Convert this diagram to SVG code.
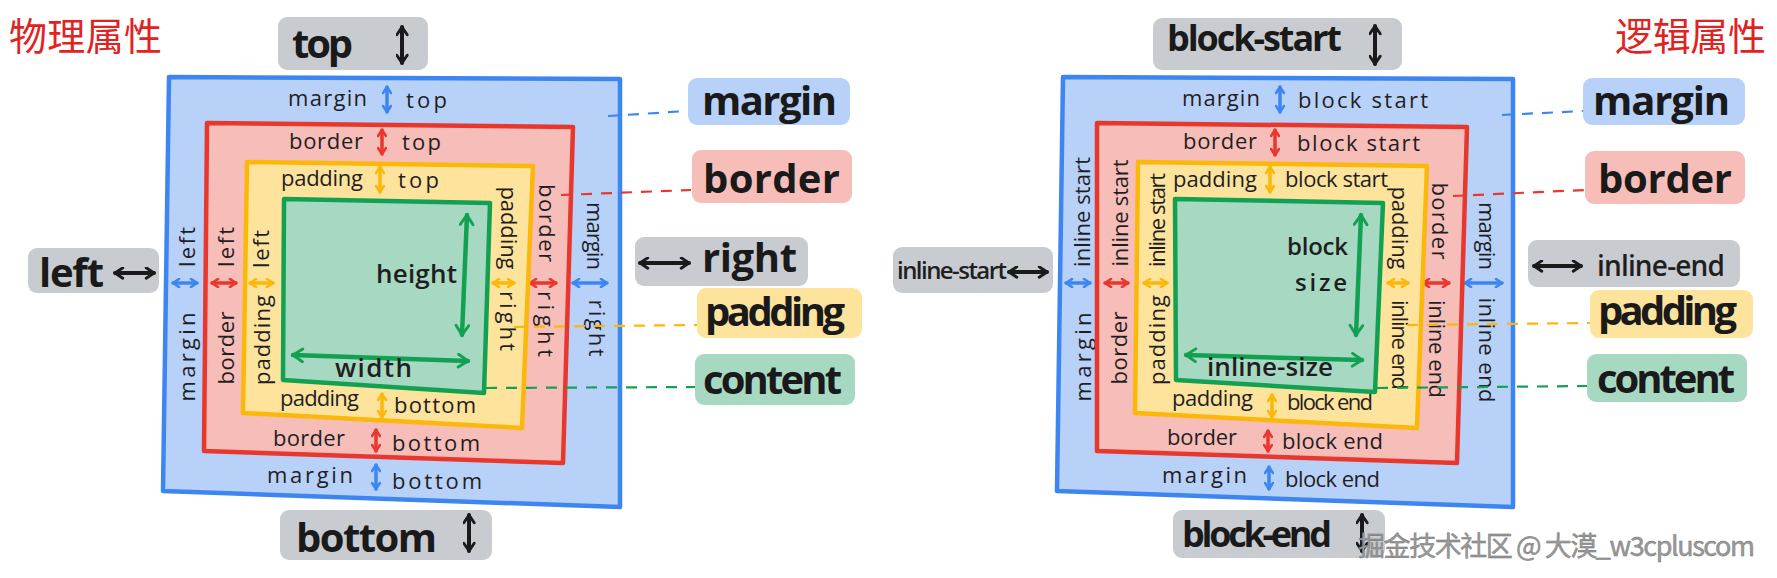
<svg xmlns="http://www.w3.org/2000/svg" width="1777" height="578" viewBox="0 0 1777 578">
<style>
.bg{fill:#ffffff}
.mb{fill:#b8d1f9;stroke:#3d86f2;stroke-width:4.5;stroke-linejoin:round}
.bb{fill:#f7bdb8;stroke:#e8372c;stroke-width:4.5;stroke-linejoin:round}
.pb{fill:#fde39c;stroke:#fbb80a;stroke-width:4.5;stroke-linejoin:round}
.cb{fill:#a7d9c2;stroke:#12a152;stroke-width:4.5;stroke-linejoin:round}
.gray{fill:#c8ccd1}
.tm{fill:#b8d1f9}.tb{fill:#f7bdb8}.tp{fill:#fde39c}.tc{fill:#a7d9c2}
.lbl{font-family:"Open Sans","DejaVu Sans",sans-serif;font-size:22px;fill:#1f1f1f}
.v{dominant-baseline:central;text-anchor:middle}
.mid{font-family:"Open Sans","DejaVu Sans",sans-serif;font-size:26px;font-weight:600;fill:#1f1f1f}
.big{font-family:"Open Sans","DejaVu Sans",sans-serif;font-size:40px;font-weight:700;fill:#1a1a1a}
.title{font-family:"Noto Sans CJK SC",sans-serif;font-size:38px;fill:#e0231f}
.wm{font-family:"Noto Sans CJK SC",sans-serif;font-size:27px;fill:#9a9a9a;stroke:#6f6f6f;stroke-width:0.4}
.aB{stroke:#3d86f2;stroke-width:3.5;fill:none;stroke-linecap:round;marker-start:url(#hB);marker-end:url(#hB)}
.aR{stroke:#e8372c;stroke-width:3.5;fill:none;stroke-linecap:round;marker-start:url(#hR);marker-end:url(#hR)}
.aY{stroke:#fbb80a;stroke-width:3.5;fill:none;stroke-linecap:round;marker-start:url(#hY);marker-end:url(#hY)}
.aG{stroke:#12a152;stroke-width:4.5;fill:none;stroke-linecap:round;marker-start:url(#hG);marker-end:url(#hG)}
.aK{stroke:#1a1a1a;stroke-width:4;fill:none;stroke-linecap:round;marker-start:url(#hK);marker-end:url(#hK)}
.dash{fill:none;stroke-width:2.2;stroke-dasharray:11 9}
</style>
<defs>
<marker id="hB" viewBox="0 0 10 10" refX="8" refY="5" markerWidth="10" markerHeight="10" markerUnits="userSpaceOnUse" orient="auto-start-reverse"><path d="M2,1 L8,5 L2,9" fill="none" stroke="#3d86f2" stroke-width="2.6" stroke-linecap="round" stroke-linejoin="round"/></marker>
<marker id="hR" viewBox="0 0 10 10" refX="8" refY="5" markerWidth="10" markerHeight="10" markerUnits="userSpaceOnUse" orient="auto-start-reverse"><path d="M2,1 L8,5 L2,9" fill="none" stroke="#e8372c" stroke-width="2.6" stroke-linecap="round" stroke-linejoin="round"/></marker>
<marker id="hY" viewBox="0 0 10 10" refX="8" refY="5" markerWidth="10" markerHeight="10" markerUnits="userSpaceOnUse" orient="auto-start-reverse"><path d="M2,1 L8,5 L2,9" fill="none" stroke="#fbb80a" stroke-width="2.6" stroke-linecap="round" stroke-linejoin="round"/></marker>
<marker id="hG" viewBox="0 0 10 10" refX="8" refY="5" markerWidth="16" markerHeight="16" markerUnits="userSpaceOnUse" orient="auto-start-reverse"><path d="M2,1 L8,5 L2,9" fill="none" stroke="#12a152" stroke-width="1.8" stroke-linecap="round" stroke-linejoin="round"/></marker>
<marker id="hK" viewBox="0 0 10 10" refX="8" refY="5" markerWidth="13" markerHeight="13" markerUnits="userSpaceOnUse" orient="auto-start-reverse"><path d="M2,1 L8,5 L2,9" fill="none" stroke="#1a1a1a" stroke-width="2.2" stroke-linecap="round" stroke-linejoin="round"/></marker>
</defs>
<rect class="bg" x="0" y="0" width="1777" height="578"/>

<!-- ===== Physical properties (left) ===== -->
<g id="title-physical"><text class="title" x="9" y="50" textLength="153">物理属性</text></g>

<g id="phys-margin">
<path class="mb" d="M169,77 L620,79 L620,507 L163,491 Z"/>
<text class="lbl" x="288" y="106" textLength="79">margin</text>
<path class="aB" d="M387,87 V112"/>
<text class="lbl" x="406" y="108" textLength="41">top</text>
<text class="lbl v" transform="translate(186,247) rotate(-90)" textLength="40">left</text>
<path class="aB" d="M173,283 H197"/>
<text class="lbl v" transform="translate(186,357) rotate(-90)" textLength="89">margin</text>
<text class="lbl v" transform="translate(596,236) rotate(90)" textLength="68">margin</text>
<path class="aB" d="M573,283 H607"/>
<text class="lbl v" transform="translate(598,328) rotate(90)" textLength="57">right</text>
<text class="lbl" x="267" y="483" textLength="86">margin</text>
<path class="aB" d="M376,465 V489"/>
<text class="lbl" x="392" y="489" textLength="90">bottom</text>
</g>

<g id="phys-border">
<path class="bb" d="M207,123 L573,127 L563,463 L204,451 Z"/>
<text class="lbl" x="289" y="149" textLength="74">border</text>
<path class="aR" d="M382,130 V154"/>
<text class="lbl" x="402" y="150" textLength="39">top</text>
<text class="lbl v" transform="translate(225,247) rotate(-90)" textLength="40">left</text>
<path class="aR" d="M212,283 H236"/>
<text class="lbl v" transform="translate(225,348) rotate(-90)" textLength="73">border</text>
<text class="lbl v" transform="translate(548,223) rotate(90)" textLength="78">border</text>
<path class="aR" d="M530,283 H556"/>
<text class="lbl v" transform="translate(547,324) rotate(90)" textLength="66">right</text>
<text class="lbl" x="273" y="446" textLength="72">border</text>
<path class="aR" d="M376,430 V451"/>
<text class="lbl" x="392" y="451" textLength="88">bottom</text>
</g>

<g id="phys-padding">
<path class="pb" d="M247,162 L533,166 L522,428 L243,413 Z"/>
<text class="lbl" x="281" y="186" textLength="82">padding</text>
<path class="aY" d="M380,167 V192"/>
<text class="lbl" x="398" y="188" textLength="41">top</text>
<text class="lbl v" transform="translate(260,249) rotate(-90)" textLength="38">left</text>
<path class="aY" d="M250,283 H273"/>
<text class="lbl v" transform="translate(261,340) rotate(-90)" textLength="90">padding</text>
<text class="lbl v" transform="translate(510,228) rotate(90)" textLength="83">padding</text>
<path class="aY" d="M493,283 H514"/>
<text class="lbl v" transform="translate(509,321) rotate(90)" textLength="60">right</text>
<text class="lbl" x="280" y="406" textLength="79">padding</text>
<path class="aY" d="M382,394 V417"/>
<text class="lbl" x="394" y="413" textLength="82">bottom</text>
</g>

<g id="phys-content">
<path class="cb" d="M284,199 L490,203 L484,393 L283,380 Z"/>
<path class="aG" d="M467,215 L462,335"/>
<text class="mid" x="376" y="283" textLength="81">height</text>
<path class="aG" d="M293,355 L468,361"/>
<text class="mid" x="335" y="377" textLength="77">width</text>
</g>

<g id="phys-top"><rect class="gray" x="278" y="17" width="150" height="53" rx="9"/><text class="big" x="292" y="58" textLength="61">top</text><path class="aK" d="M402,27 V63"/></g>
<g id="phys-left"><rect class="gray" x="28" y="248" width="131" height="45" rx="9"/><text class="big" x="39" y="287" textLength="65">left</text><path class="aK" d="M115,273 H154"/></g>
<g id="phys-bottom"><rect class="gray" x="280" y="510" width="212" height="50" rx="9"/><text class="big" x="296" y="552" textLength="141">bottom</text><path class="aK" d="M469,515 V551"/></g>
<g id="phys-right"><rect class="gray" x="635" y="237" width="173" height="49" rx="9"/><path class="aK" d="M640,263 H689"/><text class="big" x="702" y="272" textLength="95">right</text></g>

<g id="phys-key-margin"><rect class="tm" x="688" y="78" width="162" height="47" rx="9"/><text class="big" x="702" y="115" textLength="135">margin</text></g>
<g id="phys-key-border"><rect class="tb" x="692" y="150" width="160" height="53" rx="9"/><text class="big" x="703" y="193" textLength="137">border</text></g>
<g id="phys-key-padding"><rect class="tp" x="697" y="288" width="165" height="50" rx="9"/><text class="big" x="705" y="326" textLength="140">padding</text></g>
<g id="phys-key-content"><rect class="tc" x="695" y="354" width="160" height="51" rx="9"/><text class="big" x="703" y="394" textLength="139">content</text></g>

<!-- ===== Logical properties (right) ===== -->
<g id="title-logical"><text class="title" x="1615" y="50" textLength="151">逻辑属性</text></g>

<g id="log-margin">
<path class="mb" d="M1063,77 L1513,79 L1513,507 L1057,491 Z"/>
<text class="lbl" x="1182" y="106" textLength="78">margin</text>
<path class="aB" d="M1280,87 V112"/>
<text class="lbl" x="1298" y="108" textLength="130">block start</text>
<text class="lbl v" transform="translate(1081,212) rotate(-90)" textLength="110">inline start</text>
<path class="aB" d="M1066,283 H1090"/>
<text class="lbl v" transform="translate(1082,357) rotate(-90)" textLength="89">margin</text>
<text class="lbl v" transform="translate(1488,236) rotate(90)" textLength="68">margin</text>
<path class="aB" d="M1465,283 H1502"/>
<text class="lbl v" transform="translate(1488,350) rotate(90)" textLength="105">inline end</text>
<text class="lbl" x="1162" y="483" textLength="85">margin</text>
<path class="aB" d="M1269,467 V489"/>
<text class="lbl" x="1285" y="487" textLength="95">block end</text>
</g>

<g id="log-border">
<path class="bb" d="M1097,123 L1467,127 L1457,463 L1097,451 Z"/>
<text class="lbl" x="1183" y="149" textLength="74">border</text>
<path class="aR" d="M1275,130 V155"/>
<text class="lbl" x="1297" y="151" textLength="123">block start</text>
<text class="lbl v" transform="translate(1119,213) rotate(-90)" textLength="107">inline start</text>
<path class="aR" d="M1105,283 H1128"/>
<text class="lbl v" transform="translate(1118,348) rotate(-90)" textLength="73">border</text>
<text class="lbl v" transform="translate(1441,221) rotate(90)" textLength="77">border</text>
<path class="aR" d="M1423,283 H1449"/>
<text class="lbl v" transform="translate(1438,349) rotate(90)" textLength="98">inline end</text>
<text class="lbl" x="1167" y="445" textLength="70">border</text>
<path class="aR" d="M1268,431 V451"/>
<text class="lbl" x="1282" y="449" textLength="101">block end</text>
</g>

<g id="log-padding">
<path class="pb" d="M1138,162 L1427,166 L1417,428 L1135,413 Z"/>
<text class="lbl" x="1173" y="187" textLength="84">padding</text>
<path class="aY" d="M1270,167 V192"/>
<text class="lbl" x="1285" y="187" textLength="103">block start</text>
<text class="lbl v" transform="translate(1156,220) rotate(-90)" textLength="94">inline start</text>
<path class="aY" d="M1144,283 H1167"/>
<text class="lbl v" transform="translate(1156,340) rotate(-90)" textLength="90">padding</text>
<text class="lbl v" transform="translate(1401,228) rotate(90)" textLength="83">padding</text>
<path class="aY" d="M1388,283 H1408"/>
<text class="lbl v" transform="translate(1401,345) rotate(90)" textLength="90">inline end</text>
<text class="lbl" x="1172" y="406" textLength="81">padding</text>
<path class="aY" d="M1272,395 V417"/>
<text class="lbl" x="1287" y="410" textLength="86">block end</text>
</g>

<g id="log-content">
<path class="cb" d="M1175,199 L1383,203 L1375,392 L1176,380 Z"/>
<path class="aG" d="M1361,215 L1356,335"/>
<text class="mid" x="1287" y="255" textLength="61" style="font-size:24px">block</text>
<text class="mid" x="1295" y="291" textLength="52" style="font-size:24px">size</text>
<path class="aG" d="M1186,355 L1362,360"/>
<text class="mid" x="1207" y="376" textLength="126">inline-size</text>
</g>

<g id="log-block-start"><rect class="gray" x="1153" y="18" width="249" height="52" rx="9"/><text class="big" x="1167" y="51" textLength="175" style="font-size:36px">block-start</text><path class="aK" d="M1375,26 V64"/></g>
<g id="log-inline-start"><rect class="gray" x="893" y="247" width="160" height="46" rx="9"/><text class="mid" x="897" y="279" textLength="110" style="font-size:24px">inline-start</text><path class="aK" d="M1009,272 H1047"/></g>
<g id="log-block-end"><rect class="gray" x="1173" y="510" width="212" height="48" rx="9"/><text class="big" x="1182" y="547" textLength="150" style="font-size:36px">block-end</text><path class="aK" d="M1362,515 V551"/></g>
<g id="log-inline-end"><rect class="gray" x="1528" y="240" width="212" height="47" rx="9"/><path class="aK" d="M1534,266 H1581"/><text class="mid" x="1597" y="276" textLength="128" style="font-size:28px">inline-end</text></g>

<g id="log-key-margin"><rect class="tm" x="1583" y="78" width="162" height="47" rx="9"/><text class="big" x="1593" y="115" textLength="137">margin</text></g>
<g id="log-key-border"><rect class="tb" x="1585" y="151" width="160" height="53" rx="9"/><text class="big" x="1598" y="193" textLength="134">border</text></g>
<g id="log-key-padding"><rect class="tp" x="1590" y="290" width="163" height="48" rx="9"/><text class="big" x="1598" y="325" textLength="139">padding</text></g>
<g id="log-key-content"><rect class="tc" x="1587" y="354" width="160" height="48" rx="9"/><text class="big" x="1597" y="393" textLength="138">content</text></g>

<g id="connectors">
<path class="dash" stroke="#3d86f2" d="M608,116 L687,111"/>
<path class="dash" stroke="#e8372c" d="M561,195 L691,190"/>
<path class="dash" stroke="#fbb80a" d="M514,327 L697,325"/>
<path class="dash" stroke="#12a152" d="M486,388 L695,387"/>
<path class="dash" stroke="#3d86f2" d="M1502,115 L1583,111"/>
<path class="dash" stroke="#e8372c" d="M1453,196 L1585,190"/>
<path class="dash" stroke="#fbb80a" d="M1407,325 L1590,323"/>
<path class="dash" stroke="#12a152" d="M1377,388 L1587,386"/>
</g>

<g id="watermark"><text class="wm" x="1358" y="556" textLength="397">掘金技术社区 @ 大漠_w3cpluscom</text></g>
</svg>
